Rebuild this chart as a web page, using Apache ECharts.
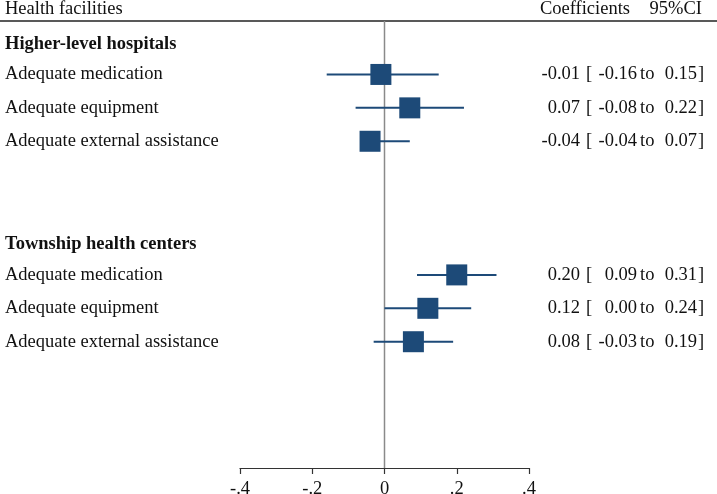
<!DOCTYPE html>
<html>
<head>
<meta charset="utf-8">
<script src="https://cdn.jsdelivr.net/npm/echarts@6/dist/echarts.min.js"></script>
<style>
html,body{margin:0;padding:0;background:#fff;}
#c{width:717px;height:494px;}
</style>
</head>
<body>
<div id="c"></div>
<script>
// ---- data ----
const groupNames = ['Higher-level hospitals', 'Township health centers'];
const groupRows = [0, 6];
const itemNames = ['Adequate medication', 'Adequate equipment', 'Adequate external assistance',
                   'Adequate medication', 'Adequate equipment', 'Adequate external assistance'];
const itemRows = [1, 2, 3, 7, 8, 9];
const coef = [-0.01, 0.07, -0.04, 0.20, 0.12, 0.08];
const lower = [-0.16, -0.08, -0.04, 0.09, 0.00, -0.03];
const upper = [0.15, 0.22, 0.07, 0.31, 0.24, 0.19];
const xTickLabels = ['-.4', '-.2', '0', '.2', '.4'];
const headerLeft = 'Health facilities';
const headerCoef = 'Coefficients';
const headerCI = '95%CI';

// ---- layout / style ----
const FONT = 'Liberation Serif';
const FS = 18.5;
const NAVY = '#1d4a78';
const yMin = -0.6, yMax = 12.78;

const chart = echarts.init(document.getElementById('c'), null, {renderer: 'canvas'});

const markData = itemRows.map((r, i) => [r, coef[i], lower[i], upper[i]]);

function fmt(v) { return v.toFixed(2); }
const FNT = FS + 'px "' + FONT + '"';

const option = {
  animation: false,
  backgroundColor: '#fff',
  grid: {left: 240, right: 188, top: 21, bottom: 26, containLabel: false, outerBoundsMode: 'none'},
  xAxis: {
    type: 'value', min: -0.4, max: 0.4, interval: 0.2, position: 'bottom',
    axisLine: {show: true, onZero: false, lineStyle: {color: '#333', width: 1.2}},
    axisTick: {show: true, length: 6, lineStyle: {color: '#333', width: 1.2}},
    splitLine: {show: false},
    axisLabel: {
      margin: 12, color: '#111', fontFamily: FONT, fontSize: FS,
      formatter: (v, idx) => xTickLabels[idx]
    }
  },
  yAxis: {
    type: 'value', min: yMin, max: yMax, inverse: true, show: false
  },
  graphic: [
    {type: 'line', shape: {x1: 0, y1: 21, x2: 717, y2: 21}, style: {stroke: '#222', lineWidth: 1.5}},
    {type: 'text', x: 5, y: 9, style: {text: headerLeft, font: FNT, fill: '#111', textAlign: 'left', textVerticalAlign: 'middle'}},
    {type: 'text', x: 630, y: 9, style: {text: headerCoef, font: FNT, fill: '#111', textAlign: 'right', textVerticalAlign: 'middle'}},
    {type: 'text', x: 702, y: 9, style: {text: headerCI, font: FNT, fill: '#111', textAlign: 'right', textVerticalAlign: 'middle'}}
  ],
  series: [
    {
      type: 'line',
      data: [[0, yMin], [0, yMax]],
      symbol: 'none',
      lineStyle: {color: '#8a8a8a', width: 1.5},
      z: 1, silent: true
    },
    {
      type: 'custom',
      z: 3,
      encode: {x: [1, 2, 3], y: 0},
      data: markData,
      renderItem: function (params, api) {
        const r = api.value(0);
        const p = api.coord([api.value(1), r]);
        const pl = api.coord([api.value(2), r]);
        const ph = api.coord([api.value(3), r]);
        const s = 21;
        return {
          type: 'group',
          children: [
            {type: 'line', shape: {x1: pl[0], y1: pl[1], x2: ph[0], y2: ph[1]}, style: {stroke: NAVY, lineWidth: 2}},
            {type: 'rect', shape: {x: p[0] - s / 2, y: p[1] - s / 2, width: s, height: s}, style: {fill: NAVY}}
          ]
        };
      }
    },
    {
      type: 'custom',
      z: 4,
      clip: false,
      encode: {x: 1, y: 0},
      data: itemRows.map((r, i) => [r, 0]),
      renderItem: function (params, api) {
        const i = params.dataIndex;
        const y = api.coord([0, api.value(0)])[1];
        const t = (text, x, align) => ({type: 'text', style: {text: text, x: x, y: y, font: FNT, fill: '#111', textAlign: align, textVerticalAlign: 'middle'}});
        return {
          type: 'group',
          children: [
            t(itemNames[i], 5, 'left'),
            t(fmt(coef[i]), 580, 'right'),
            t('[', 586, 'left'),
            t(fmt(lower[i]), 637, 'right'),
            t('to', 640, 'left'),
            t(fmt(upper[i]), 697, 'right'),
            t(']', 698, 'left')
          ]
        };
      }
    },
    {
      type: 'custom',
      z: 4,
      clip: false,
      encode: {x: 1, y: 0},
      data: groupRows.map(r => [r, 0]),
      renderItem: function (params, api) {
        const y = api.coord([0, api.value(0)])[1] + 3;
        return {
          type: 'text',
          style: {text: groupNames[params.dataIndex], x: 5, y: y, font: 'bold ' + FNT, fill: '#111', textAlign: 'left', textVerticalAlign: 'middle'}
        };
      }
    }
  ]
};
chart.setOption(option);
</script>
</body>
</html>
